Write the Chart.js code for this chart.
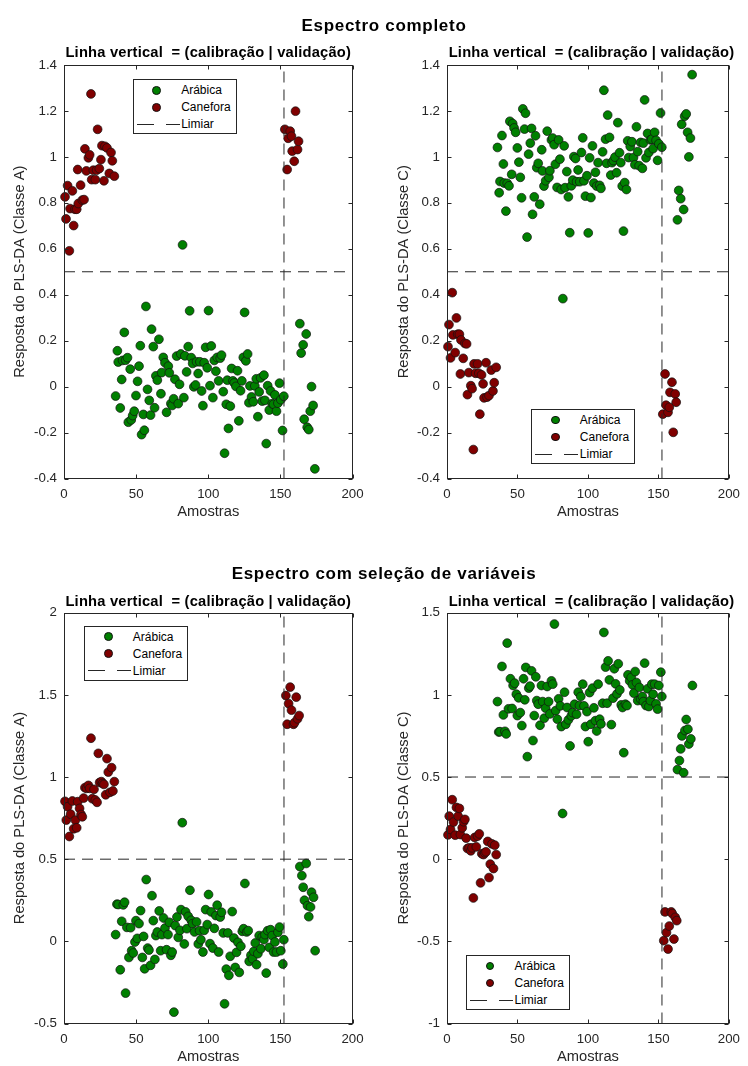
<!DOCTYPE html>
<html>
<head>
<meta charset="utf-8">
<script src="https://cdn.jsdelivr.net/npm/chart.js@4.4.1/dist/chart.umd.min.js"></script>
<style>
  html,body{margin:0;padding:0;background:#fff;}
  body{width:748px;height:1066px;position:relative;overflow:hidden;font-family:"Liberation Sans",Arial,sans-serif;}
  canvas{position:absolute;}
  .t{position:absolute;width:500px;text-align:center;line-height:1;white-space:pre;color:#000;font-weight:bold;}
  .leg{position:absolute;box-sizing:border-box;width:104px;height:55px;border:1px solid #262626;background:#fff;}
  .leg .dot{position:absolute;box-sizing:border-box;width:8.8px;height:8.8px;border-radius:50%;border:0.7px solid #111;}
  .leg .lt{position:absolute;font-size:12px;line-height:14px;color:#000;white-space:pre;}
  .leg svg{position:absolute;}
</style>
</head>
<body>
<script>
// ---------------- DATA ----------------
const xTicks = [0, 50, 100, 150, 200];
const yTicksEsp = [-0.4, -0.2, 0, 0.2, 0.4, 0.6, 0.8, 1, 1.2, 1.4];
const yTicksSelA = [-0.5, 0, 0.5, 1, 1.5, 2];
const yTicksSelC = [-1, -0.5, 0, 0.5, 1, 1.5];
const limiar = 0.5;          // threshold (horizontal dashed line)
const corteCalVal = 152.5;   // calibration | validation split (vertical dashed line)

// Espectro completo - Arábica
const amostrasArabicaEsp = [35.8,37.0,37.6,39.0,40.0,40.6,41.8,42.7,44.0,44.6,
  45.9,46.6,47.6,48.7,49.9,51.0,52.0,52.9,53.8,55.0,
  55.7,56.8,57.9,59.1,60.0,60.7,61.9,62.8,63.7,64.7,
  65.8,67.2,67.7,68.8,70.0,71.1,72.3,73.0,74.1,75.0,
  76.0,76.9,78.1,79.2,80.1,81.0,82.2,83.1,83.8,85.0,
  86.1,87.1,88.2,89.2,90.0,91.2,91.9,93.0,94.2,95.4,
  96.3,97.2,98.2,99.3,100.2,101.2,102.1,103.2,104.2,105.3,
  106.2,107.2,108.3,109.2,110.4,111.3,112.5,113.2,114.0,115.3,
  116.2,117.1,118.0,119.2,120.3,121.2,122.4,123.3,124.3,125.2,
  126.1,127.3,128.2,128.9,130.0,131.2,132.3,133.3,134.4,135.3,
  136.3,137.4,138.6,139.3,140.2,141.2,142.3,143.2,144.3,145.3,
  146.2,147.3,148.3,149.4,150.3,151.5,152.4,
  163.5,164.4,165.8,166.5,167.9,168.6,169.7,170.7,171.6,172.7,173.9];
const respAArabicaEsp = [-0.041,0.156,0.107,-0.093,0.031,0.114,0.236,0.115,0.126,-0.155,
  0.076,-0.145,-0.126,-0.107,-0.039,0.023,0.089,0.178,-0.209,-0.121,
  -0.190,0.349,-0.012,-0.060,-0.124,0.250,0.174,-0.092,0.047,0.028,
  0.206,-0.031,0.061,0.127,0.104,-0.112,0.089,0.060,-0.074,-0.082,
  -0.053,0.032,0.133,-0.074,0.010,0.142,0.617,-0.048,0.134,0.064,
  0.174,0.330,0.126,0.101,-0.001,0.007,0.108,0.057,0.108,-0.019,
  -0.083,0.104,0.171,0.082,0.331,0.004,0.177,-0.048,0.114,0.067,
  0.127,0.025,0.124,0.137,-0.022,-0.290,-0.077,0.028,-0.182,-0.085,
  0.079,0.025,0.016,0.001,0.069,-0.149,-0.018,0.025,0.127,0.323,
  0.112,0.142,-0.070,0.003,-0.045,-0.066,0.003,0.034,-0.131,-0.023,
  0.038,-0.063,0.050,-0.060,-0.248,0.004,-0.102,-0.019,-0.074,-0.077,
  -0.036,-0.107,-0.072,0.015,-0.057,-0.191,-0.042,
  0.274,0.146,0.182,-0.142,0.229,-0.177,-0.187,-0.107,0.000,-0.082,-0.358];
const respCArabicaEsp = [1.041,0.844,0.893,1.093,0.969,0.886,0.764,0.885,0.874,1.155,
  0.924,1.145,1.126,1.107,1.039,0.977,0.911,0.822,1.209,1.121,
  1.190,0.651,1.012,1.060,1.124,0.750,0.826,1.092,0.953,0.972,
  0.794,1.031,0.939,0.873,0.896,1.112,0.911,0.940,1.074,1.082,
  1.053,0.968,0.867,1.074,0.990,0.858,0.383,1.048,0.866,0.936,
  0.826,0.670,0.874,0.899,1.001,0.993,0.892,0.943,0.892,1.019,
  1.083,0.896,0.829,0.918,0.669,0.996,0.823,1.048,0.886,0.933,
  0.873,0.975,0.876,0.863,1.022,1.290,1.077,0.972,1.182,1.085,
  0.921,0.975,0.984,0.999,0.931,1.149,1.018,0.975,0.873,0.677,
  0.888,0.858,1.070,0.997,1.045,1.066,0.997,0.966,1.131,1.023,
  0.962,1.063,0.950,1.060,1.248,0.996,1.102,1.019,1.074,1.077,
  1.036,1.107,1.072,0.985,1.057,1.191,1.042,
  0.726,0.854,0.818,1.142,0.771,1.177,1.187,1.107,1.000,1.082,1.358];

// Espectro completo - Canefora
const amostrasCaneforaEsp = [0.7,1.4,2.5,3.7,4.2,5.8,6.7,7.6,8.8,9.5,
  9.9,11.5,12.7,13.9,14.5,15.5,16.9,17.8,18.7,19.2,
  20.3,21.7,22.6,23.3,24.5,25.6,26.3,27.7,28.4,29.8,
  31.4,32.6,33.5,34.9,
  153.1,154.7,155.4,156.8,157.7,158.2,159.6,160.5,161.9,162.6];
const respACaneforaEsp = [0.826,0.730,0.875,0.591,0.775,0.852,0.701,0.772,0.772,0.945,
  0.797,0.877,0.812,0.814,1.035,0.939,0.996,1.009,1.274,0.901,
  0.942,0.901,0.942,1.120,0.949,0.988,1.049,0.896,1.046,1.039,
  0.928,1.019,0.983,0.916,
  1.120,0.945,1.081,1.112,1.090,1.025,0.981,1.199,1.032,1.068];
const respCCaneforaEsp = [0.174,0.270,0.125,0.409,0.225,0.148,0.299,0.228,0.228,0.055,
  0.203,0.123,0.188,0.186,-0.035,0.061,0.004,-0.009,-0.274,0.099,
  0.058,0.099,0.058,-0.120,0.051,0.012,-0.049,0.104,-0.046,-0.039,
  0.072,-0.019,0.017,0.084,
  -0.120,0.055,-0.081,-0.112,-0.090,-0.025,0.019,-0.199,-0.032,-0.068];

// Espectro com seleção de variáveis - Arábica
const amostrasArabicaSel = [35.8,36.7,37.6,39.0,40.0,41.1,42.0,42.7,43.6,45.0,
  46.2,46.9,48.0,49.2,49.9,50.8,52.0,53.1,54.3,55.2,
  55.9,57.0,58.0,58.9,60.0,61.0,61.9,63.0,63.7,64.7,
  66.0,67.0,67.9,69.0,70.0,71.1,72.1,73.0,74.1,75.0,
  76.2,77.1,78.3,79.2,80.4,81.1,82.0,83.4,84.3,85.2,
  86.1,87.3,88.2,89.1,90.5,91.9,93.1,94.0,94.9,96.3,
  97.2,98.2,99.3,100.2,101.2,102.1,103.2,104.2,105.3,106.2,
  107.2,108.3,109.2,110.4,111.3,112.5,113.6,114.3,115.2,116.6,
  117.8,118.7,119.6,120.6,121.5,122.6,123.6,124.5,125.4,126.6,
  127.7,128.4,129.6,130.7,131.6,132.6,133.5,134.4,135.3,136.5,
  137.4,138.6,139.3,140.2,141.2,142.3,143.2,144.3,145.3,146.2,
  147.3,148.3,149.4,150.3,151.7,152.4,
  163.5,164.9,165.8,166.7,167.9,168.8,169.7,170.9,171.6,173.0,174.1];
const respAArabicaSel = [0.041,0.226,0.224,-0.173,0.122,0.222,0.238,-0.315,0.085,-0.098,
  0.083,-0.057,-0.071,-0.004,0.126,0.018,0.108,0.187,-0.098,0.030,
  -0.167,0.376,-0.041,-0.053,-0.146,0.278,0.126,-0.110,0.035,0.057,
  0.185,-0.057,0.041,0.142,0.081,-0.051,0.041,0.116,-0.085,-0.065,
  -0.431,0.096,0.148,0.024,0.067,0.193,0.722,-0.016,0.179,0.077,
  0.152,0.311,0.128,0.108,0.057,0.118,-0.016,0.065,0.010,-0.065,
  0.067,0.193,0.102,0.285,-0.014,0.179,-0.041,0.079,0.157,0.220,
  -0.065,0.148,0.177,0.051,-0.380,-0.169,0.051,-0.207,-0.091,0.181,
  0.020,-0.159,-0.067,-0.006,-0.189,-0.030,0.061,0.077,0.352,0.057,
  0.065,-0.122,-0.085,-0.106,-0.061,-0.010,-0.142,-0.075,0.035,-0.045,
  0.026,0.010,0.041,-0.193,0.065,-0.037,0.071,0.035,-0.065,-0.004,
  -0.065,0.055,0.087,-0.057,-0.138,0.010,
  0.455,0.400,0.329,0.250,0.474,0.217,0.150,0.209,0.299,0.268,-0.057];
const respCArabicaSel = [0.959,0.774,0.776,1.173,0.878,0.778,0.762,1.315,0.915,1.098,
  0.917,1.057,1.071,1.004,0.874,0.982,0.892,0.813,1.098,0.970,
  1.167,0.624,1.041,1.053,1.146,0.722,0.874,1.110,0.965,0.943,
  0.815,1.057,0.959,0.858,0.919,1.051,0.959,0.884,1.085,1.065,
  1.431,0.904,0.852,0.976,0.933,0.807,0.278,1.016,0.821,0.923,
  0.848,0.689,0.872,0.892,0.943,0.882,1.016,0.935,0.990,1.065,
  0.933,0.807,0.898,0.715,1.014,0.821,1.041,0.921,0.843,0.780,
  1.065,0.852,0.823,0.949,1.380,1.169,0.949,1.207,1.091,0.819,
  0.980,1.159,1.067,1.006,1.189,1.030,0.939,0.923,0.648,0.943,
  0.935,1.122,1.085,1.106,1.061,1.010,1.142,1.075,0.965,1.045,
  0.974,0.990,0.959,1.193,0.935,1.037,0.929,0.965,1.065,1.004,
  1.065,0.945,0.913,1.057,1.138,0.990,
  0.545,0.600,0.671,0.750,0.526,0.783,0.850,0.791,0.701,0.732,1.057];

// Espectro com seleção de variáveis - Canefora
const amostrasCaneforaSel = [0.7,1.6,2.5,3.7,4.6,5.8,6.7,7.9,8.8,9.5,
  10.8,11.8,12.7,13.6,14.5,15.7,16.9,17.8,18.7,19.6,
  20.8,21.7,22.9,23.8,24.7,25.9,26.8,27.7,28.9,29.8,
  30.7,31.9,33.0,33.9,34.9,
  153.8,154.7,155.7,156.8,157.7,159.1,159.8,161.0,161.9,163.0];
const respACaneforaSel = [0.852,0.738,0.819,0.638,0.774,0.854,0.685,0.738,0.691,0.850,
  0.809,0.772,0.758,0.872,0.935,0.931,0.949,0.931,1.236,0.868,
  0.925,0.860,0.846,1.144,0.967,0.972,0.961,0.955,0.892,1.112,
  1.030,0.907,1.057,0.915,0.972,
  1.496,1.321,1.447,1.547,1.407,1.321,1.331,1.486,1.354,1.374];
const respCCaneforaSel = [0.148,0.262,0.181,0.362,0.226,0.146,0.315,0.262,0.309,0.150,
  0.191,0.228,0.242,0.128,0.065,0.069,0.051,0.069,-0.236,0.132,
  0.075,0.140,0.154,-0.144,0.033,0.028,0.039,0.045,0.108,-0.112,
  -0.030,0.093,-0.057,0.085,0.028,
  -0.496,-0.321,-0.447,-0.547,-0.407,-0.321,-0.331,-0.486,-0.354,-0.374];

const serieNomes = ['Arábica', 'Canefora', 'Limiar'];
const tituloGeral1 = 'Espectro completo';
const tituloGeral2 = 'Espectro com seleção de variáveis';
const subtitulo = 'Linha vertical  = (calibração | validação)';
const rotuloX = 'Amostras';
const rotuloYA = 'Resposta do PLS-DA (Classe A)';
const rotuloYC = 'Resposta do PLS-DA (Classe C)';

// ---------------- STYLE ----------------
const FONT = "'Liberation Sans', Arial, sans-serif";
const corArabica = '#008000';
const corCanefora = '#800000';
const corEixo = '#262626';

function zip(xs, ys) { return xs.map((x, i) => ({x: x, y: ys[i]})); }

const boxPlugin = {
  id: 'matlabBox',
  afterDatasetsDraw(chart) {
    const {ctx, chartArea: a, scales} = chart;
    const x = scales.x, y = scales.y;
    ctx.save();
    ctx.strokeStyle = corEixo;
    ctx.lineWidth = 1;
    const L = Math.round(a.left) + 0.5, R = Math.round(a.right) - 0.5;
    const T = Math.round(a.top) + 0.5, B = Math.round(a.bottom) - 0.5;
    ctx.strokeRect(L, T, R - L, B - T);
    ctx.beginPath();
    x.ticks.forEach(t => {
      const p = Math.round(x.getPixelForValue(t.value)) + 0.5;
      ctx.moveTo(p, B); ctx.lineTo(p, B - 4);
      ctx.moveTo(p, T); ctx.lineTo(p, T + 4);
    });
    y.ticks.forEach(t => {
      const p = Math.round(y.getPixelForValue(t.value)) + 0.5;
      ctx.moveTo(L, p); ctx.lineTo(L + 4, p);
      ctx.moveTo(R, p); ctx.lineTo(R - 4, p);
    });
    ctx.stroke();
    ctx.restore();
  }
};

function fmt(v) { return String(Math.round(v * 10) / 10); }

function painel(rect, area, yTicks, yTitle, yTitleCenter, arabX, arabY, canX, canY) {
  const cv = document.createElement('canvas');
  cv.width = rect.w; cv.height = rect.h;
  cv.style.left = rect.x + 'px'; cv.style.top = rect.y + 'px';
  cv.style.width = rect.w + 'px'; cv.style.height = rect.h + 'px';
  document.body.appendChild(cv);
  const padTop = area.t - rect.y;
  const padRight = rect.x + rect.w - area.r;
  const yW = area.l - rect.x;
  const xH = Math.min(42.7, rect.y + rect.h - area.b);
  const padBottom = rect.y + rect.h - area.b - xH;
  const yMin = yTicks[0], yMax = yTicks[yTicks.length - 1];
  const xMin = xTicks[0], xMax = xTicks[xTicks.length - 1];
  const yTitleLH = 14.7 * 1.2;
  new Chart(cv, {
    type: 'scatter',
    data: {
      datasets: [
        {label: serieNomes[2], data: [{x: xMin, y: limiar}, {x: xMax, y: limiar}], showLine: true,
         borderColor: corEixo, borderWidth: 1, borderDash: [11, 7], pointRadius: 0, order: 0},
        {label: serieNomes[2], data: [{x: corteCalVal, y: yMin}, {x: corteCalVal, y: yMax}], showLine: true,
         borderColor: corEixo, borderWidth: 1, borderDash: [11, 7], pointRadius: 0, order: 0},
        {label: serieNomes[1], data: zip(canX, canY), backgroundColor: corCanefora, borderColor: '#111',
         borderWidth: 0.7, pointRadius: 4.4, order: 1, clip: false},
        {label: serieNomes[0], data: zip(arabX, arabY), backgroundColor: corArabica, borderColor: '#111',
         borderWidth: 0.7, pointRadius: 4.4, order: 2, clip: false}
      ]
    },
    options: {
      responsive: false, animation: false, devicePixelRatio: 1,
      layout: {padding: {top: padTop, right: padRight, bottom: padBottom, left: 0}},
      plugins: {legend: {display: false}, tooltip: {enabled: false}, title: {display: false}},
      scales: {
        x: {
          type: 'linear', min: xMin, max: xMax,
          afterBuildTicks: s => { s.ticks = xTicks.map(v => ({value: v})); },
          afterFit: s => { s.height = xH; },
          grid: {display: false, drawTicks: false}, border: {display: false},
          ticks: {padding: 8, color: corEixo, font: {family: FONT, size: 13.3}, callback: v => fmt(v), maxRotation: 0},
          title: {display: true, text: rotuloX, color: corEixo, font: {family: FONT, size: 14.7}, padding: {top: 0, bottom: 0}}
        },
        y: {
          type: 'linear', min: yMin, max: yMax,
          afterBuildTicks: s => { s.ticks = yTicks.map(v => ({value: v})); },
          afterFit: s => { s.width = yW; },
          grid: {display: false, drawTicks: false}, border: {display: false},
          ticks: {padding: 7, color: corEixo, font: {family: FONT, size: 13.3}, callback: v => fmt(v)},
          title: {display: true, text: yTitle, color: corEixo, font: {family: FONT, size: 14.7},
                  padding: {top: yTitleCenter - rect.x - yTitleLH / 2, bottom: 0}}
        }
      }
    },
    plugins: [boxPlugin]
  });
}

function texto(str, cx, baseline, size, spacing) {
  const d = document.createElement('div');
  d.className = 't';
  d.textContent = str;
  d.style.fontSize = size + 'px';
  d.style.letterSpacing = spacing + 'px';
  d.style.left = (cx - 250) + 'px';
  d.style.top = (baseline - 0.8465 * size) + 'px';
  document.body.appendChild(d);
}

function legenda(left, top) {
  const d = document.createElement('div');
  d.className = 'leg';
  d.style.left = left + 'px'; d.style.top = top + 'px';
  const rows = [11, 28, 45];
  let h = '';
  h += `<span class="dot" style="left:${24 - 4.4 - 1}px;top:${rows[0] - 4.4 - 1}px;background:${corArabica}"></span>`;
  h += `<span class="lt" style="left:${48.5 - 1}px;top:${rows[0] - 7 - 1}px">${serieNomes[0]}</span>`;
  h += `<span class="dot" style="left:${24 - 4.4 - 1}px;top:${rows[1] - 4.4 - 1}px;background:${corCanefora}"></span>`;
  h += `<span class="lt" style="left:${48.5 - 1}px;top:${rows[1] - 7 - 1}px">${serieNomes[1]}</span>`;
  h += `<svg width="44" height="3" style="left:${4 - 1}px;top:${rows[2] - 1.5 - 1}px"><line x1="0" y1="1.5" x2="43" y2="1.5" stroke="${corEixo}" stroke-width="1" stroke-dasharray="17 12"/></svg>`;
  h += `<span class="lt" style="left:${48.5 - 1}px;top:${rows[2] - 7 - 1}px">${serieNomes[2]}</span>`;
  d.innerHTML = h;
  document.body.appendChild(d);
}

// Panels
const A1 = {l: 64, r: 352.5, t: 65, b: 478.5};
const A2 = {l: 447, r: 736, t: 65, b: 478.5};
const A3 = {l: 64, r: 352.5, t: 612.7, b: 1023.5};
const A4 = {l: 447, r: 736, t: 612.7, b: 1023.5};

painel({x: 0, y: 30, w: 374, h: 500}, A1, yTicksEsp, rotuloYA, 20, amostrasArabicaEsp, respAArabicaEsp, amostrasCaneforaEsp, respACaneforaEsp);
painel({x: 374, y: 30, w: 374, h: 500}, A2, yTicksEsp, rotuloYC, 403.5, amostrasArabicaEsp, respCArabicaEsp, amostrasCaneforaEsp, respCCaneforaEsp);
painel({x: 0, y: 560, w: 374, h: 506}, A3, yTicksSelA, rotuloYA, 20, amostrasArabicaSel, respAArabicaSel, amostrasCaneforaSel, respACaneforaSel);
painel({x: 374, y: 560, w: 374, h: 506}, A4, yTicksSelC, rotuloYC, 403.5, amostrasArabicaSel, respCArabicaSel, amostrasCaneforaSel, respCCaneforaSel);

// Titles
texto(tituloGeral1, 384, 31, 17, 0.7);
texto(tituloGeral2, 384, 579.3, 17, 0.7);
texto(subtitulo, (A1.l + A1.r) / 2, 57, 14.7, 0.2);
texto(subtitulo, (A2.l + A2.r) / 2, 57, 14.7, 0.2);
texto(subtitulo, (A3.l + A3.r) / 2, 606.7, 14.7, 0.2);
texto(subtitulo, (A4.l + A4.r) / 2, 606.7, 14.7, 0.2);

// Legends
legenda(132.7, 79.3);
legenda(531.3, 409);
legenda(84.3, 625.7);
legenda(466, 955);
</script>
</body>
</html>
